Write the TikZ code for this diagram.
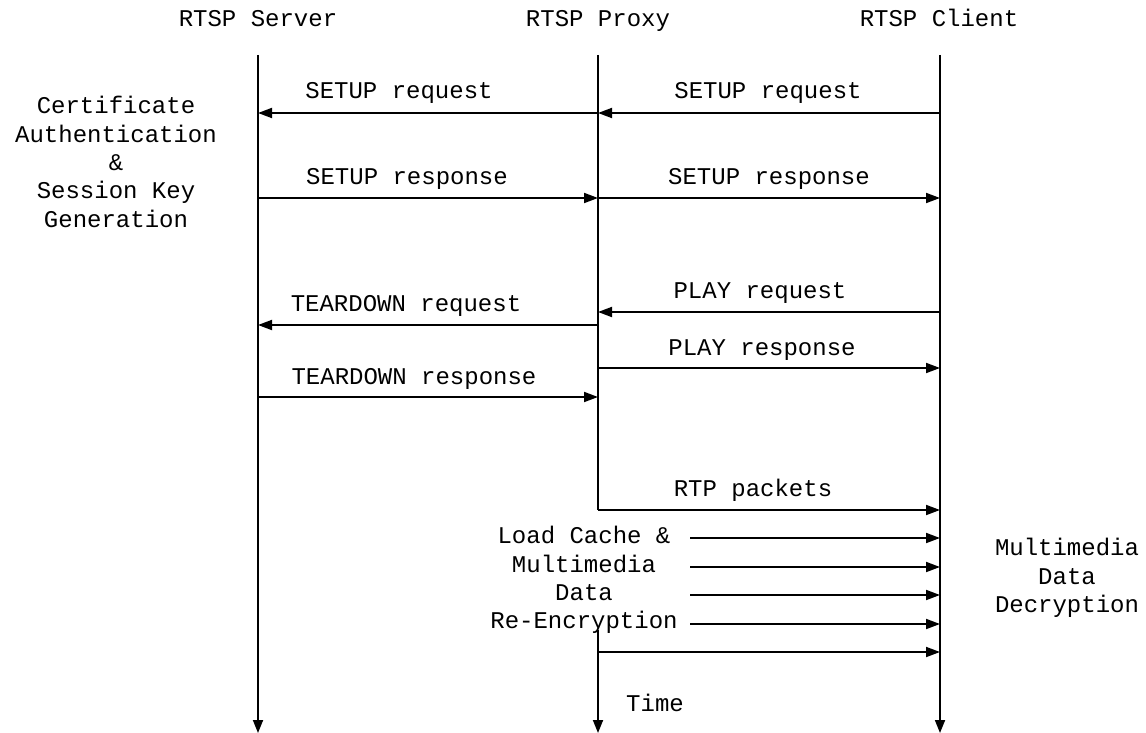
\documentclass[tikz,border=0pt]{standalone}
\usepackage{fontspec}
\setmainfont{Liberation Mono}
\usetikzlibrary{arrows.meta}
\begin{document}
\begin{tikzpicture}[x=1pt,y=-1pt,
  lbl/.style={font=\fontsize{24}{28.3}\selectfont,inner sep=0pt,anchor=base},
  multi/.style={font=\fontsize{24}{28.3}\selectfont,inner sep=0pt,align=center},
  life/.style={line width=1.8pt,-{Triangle[length=13pt,width=10pt]}},
  msg/.style={line width=1.8pt,-{Triangle[length=14pt,width=10pt]}}]
\useasboundingbox (0,0) rectangle (1146,733);
% headers
\node[lbl] (hs) at (258,27) {RTSP Server};
\node[lbl] (hp) at (598,27) {RTSP Proxy};
\node[lbl] (hc) at (939,27) {RTSP Client};
% lifeline coordinates
\coordinate (st) at (258,55); \coordinate (sb) at (258,733);
\coordinate (pt) at (598,55); \coordinate (pm) at (598,510);
\coordinate (pr) at (598,630); \coordinate (pb) at (598,733);
\coordinate (ct) at (940,55); \coordinate (cb) at (940,733);
\draw[life] (st) -- (sb);
\draw[line width=1.8pt] (pt) -- (pm);
\draw[life] (pr) -- (pb);
\draw[life] (ct) -- (cb);
% message end points
\coordinate (s1) at (258,113); \coordinate (p1) at (598,113); \coordinate (c1) at (940,113);
\coordinate (s2) at (258,198); \coordinate (p2) at (598,198); \coordinate (c2) at (940,198);
\coordinate (p3) at (598,312); \coordinate (c3) at (940,312);
\coordinate (s4) at (258,325); \coordinate (p4) at (598,325);
\coordinate (p5) at (598,368); \coordinate (c5) at (940,368);
\coordinate (s6) at (258,397); \coordinate (p6) at (598,397);
\coordinate (c7) at (940,510);
\coordinate (a1) at (690,538); \coordinate (b1) at (940,538);
\coordinate (a2) at (690,567); \coordinate (b2) at (940,567);
\coordinate (a3) at (690,595); \coordinate (b3) at (940,595);
\coordinate (a4) at (690,624); \coordinate (b4) at (940,624);
\coordinate (p8) at (598,652); \coordinate (b5) at (940,652);
% messages
\draw[msg] (c1) -- (p1);
\draw[msg] (p1) -- (s1);
\draw[msg] (s2) -- (p2);
\draw[msg] (p2) -- (c2);
\draw[msg] (c3) -- (p3);
\draw[msg] (p4) -- (s4);
\draw[msg] (p5) -- (c5);
\draw[msg] (s6) -- (p6);
\draw[msg] (pm) -- (c7);
\draw[msg] (a1) -- (b1);
\draw[msg] (a2) -- (b2);
\draw[msg] (a3) -- (b3);
\draw[msg] (a4) -- (b4);
\draw[msg] (p8) -- (b5);
% labels
\node[lbl] (l1) at (399,99) {SETUP request};
\node[lbl] (l2) at (768,99) {SETUP request};
\node[lbl] (l3) at (407,184) {SETUP response};
\node[lbl] (l4) at (769,184) {SETUP response};
\node[lbl] (l5) at (760,298) {PLAY request};
\node[lbl] (l6) at (406,311) {TEARDOWN request};
\node[lbl] (l7) at (762,355) {PLAY response};
\node[lbl] (l8) at (414,384) {TEARDOWN response};
\node[lbl] (l9) at (753,496) {RTP packets};
\node[lbl] (lt) at (655,711) {Time};
% side texts
\node[multi] (cert) at (116,162) {Certificate\\Authentication\\\&\\Session Key\\Generation};
\node[multi] (load) at (584,580) {Load Cache \&\\Multimedia\\Data\\Re-Encryption};
\node[multi] (dec) at (1067,578) {Multimedia\\Data\\Decryption};
\end{tikzpicture}
\end{document}
